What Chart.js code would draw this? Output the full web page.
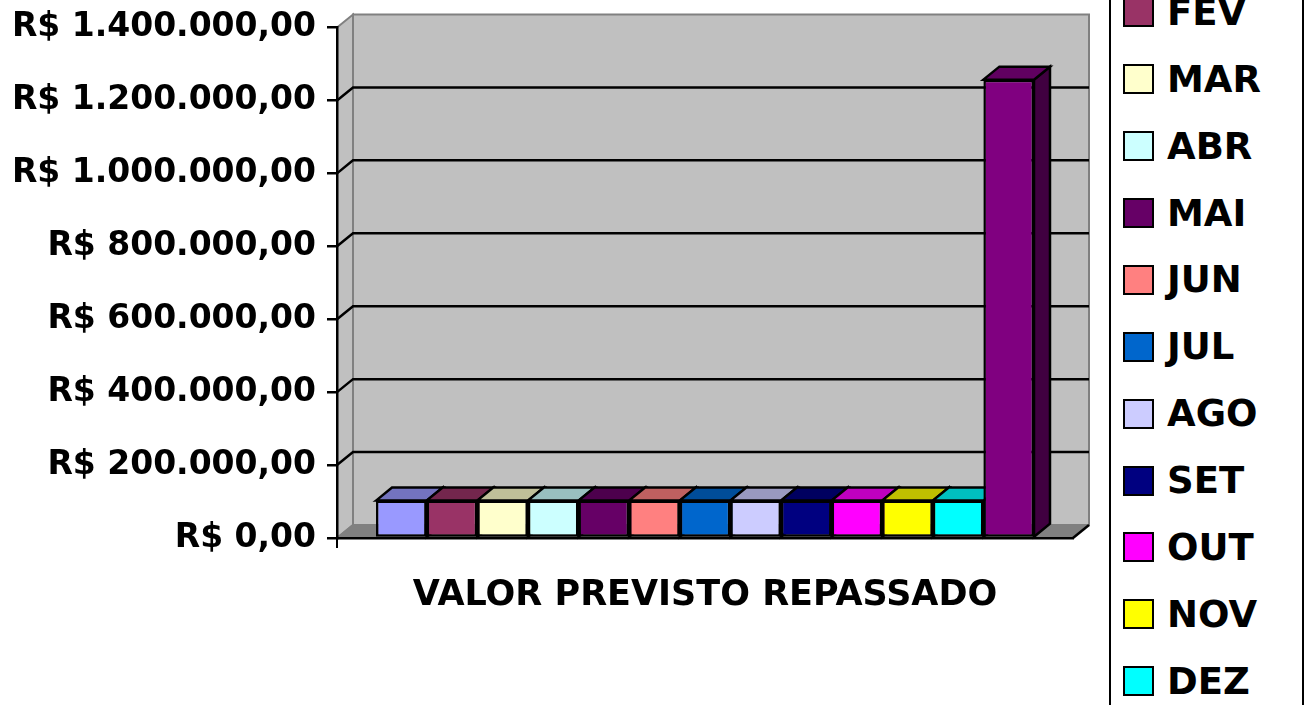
<!DOCTYPE html>
<html>
<head>
<meta charset="utf-8">
<script src="https://cdn.jsdelivr.net/npm/chart.js@4/dist/chart.umd.min.js"></script>
<style>
  html, body { margin:0; padding:0; background:#fff; overflow:hidden; }
  #wrap { position:relative; width:1305px; height:705px; overflow:hidden; }
  #c { position:absolute; left:0; top:0; }
  #legend { position:absolute; left:1109px; top:-100px; width:191px; border:2px solid #000; background:#fff; padding:10px 0; font-family:"DejaVu Sans", sans-serif; font-weight:bold; font-size:37px; color:#000; }
  .item { display:flex; align-items:center; height:66.9px; }
  .sw { width:27px; height:26px; border:2px solid #000; margin-left:12px; margin-right:13px; flex:none; }
</style>
</head>
<body>
<div id="wrap">
  <canvas id="c" width="1305" height="705"></canvas>
  <div id="legend"></div>
</div>
<script>
const CATEGORIES = ['VALOR PREVISTO REPASSADO'];
const SERIES = ['JAN','FEV','MAR','ABR','MAI','JUN','JUL','AGO','SET','OUT','NOV','DEZ','TOTAL'];
const VALUES = [102500, 102500, 102500, 102500, 102500, 102500, 102500, 102500, 102500, 102500, 102500, 102500, 1257000];
const COLORS = ['#9999FF','#993366','#FFFFCC','#CCFFFF','#660066','#FF8080','#0066CC','#CCCCFF','#000080','#FF00FF','#FFFF00','#00FFFF','#800080'];
const Y_TICK_VALUES = [0, 200000, 400000, 600000, 800000, 1000000, 1200000, 1400000];
const Y_TICK_LABELS = ['R$ 0,00','R$ 200.000,00','R$ 400.000,00','R$ 600.000,00','R$ 800.000,00','R$ 1.000.000,00','R$ 1.200.000,00','R$ 1.400.000,00'];

const DX = 16, DY = 13;
const FONT = '"DejaVu Sans", sans-serif';

function shade(hex, f) {
  const n = parseInt(hex.slice(1), 16);
  const r = Math.round(((n >> 16) & 255) * f), g = Math.round(((n >> 8) & 255) * f), b = Math.round((n & 255) * f);
  return 'rgb(' + r + ',' + g + ',' + b + ')';
}
function poly(ctx, pts, fill, stroke, lw) {
  ctx.beginPath();
  ctx.moveTo(pts[0][0], pts[0][1]);
  for (let i = 1; i < pts.length; i++) ctx.lineTo(pts[i][0], pts[i][1]);
  ctx.closePath();
  if (fill) { ctx.fillStyle = fill; ctx.fill(); }
  if (stroke) { ctx.strokeStyle = stroke; ctx.lineWidth = lw || 2; ctx.lineJoin = 'miter'; ctx.stroke(); }
}

const wallsPlugin = {
  id: 'walls3d',
  beforeDraw(chart) {
    const ctx = chart.ctx, a = chart.chartArea, y = chart.scales.y;
    const L = a.left, R = a.right;
    const T = y.getPixelForValue(y.max), B = y.getPixelForValue(0);
    ctx.save();
    poly(ctx, [[L+DX, T-DY],[R+DX, T-DY],[R+DX, B-DY],[L+DX, B-DY]], '#C0C0C0', '#808080', 2);
    poly(ctx, [[L, T],[L+DX, T-DY],[L+DX, B-DY],[L, B]], '#C0C0C0', '#808080', 2);
    poly(ctx, [[L, B],[L+DX, B-DY],[R+DX, B-DY],[R, B]], '#808080', null);
    ctx.strokeStyle = '#808080'; ctx.lineWidth = 2;
    ctx.beginPath(); ctx.moveTo(L, B); ctx.lineTo(L+DX, B-DY); ctx.stroke();
    ctx.strokeStyle = '#000'; ctx.lineWidth = 2.5;
    ctx.beginPath(); ctx.moveTo(R, B); ctx.lineTo(R+DX, B-DY); ctx.stroke();
    ctx.strokeStyle = '#000'; ctx.lineWidth = 2.5;
    Y_TICK_VALUES.forEach(v => {
      if (v <= y.min || v >= y.max) return;
      const yy = y.getPixelForValue(v);
      ctx.beginPath();
      ctx.moveTo(L, yy); ctx.lineTo(L+DX, yy-DY); ctx.lineTo(R+DX, yy-DY);
      ctx.stroke();
    });
    ctx.restore();
  },
  beforeDatasetsDraw(chart) {
    const ctx = chart.ctx;
    ctx.save();
    chart.data.datasets.forEach((ds, i) => {
      const meta = chart.getDatasetMeta(i);
      meta.data.forEach(el => {
        const p = el.getProps(['x','y','base','width'], true);
        const l = p.x - p.width/2, r = p.x + p.width/2, t = p.y, b = p.base;
        poly(ctx, [[r, t],[r+DX, t-DY],[r+DX, b-DY],[r, b]], shade(COLORS[i], 0.5), '#000', 2.5);
        poly(ctx, [[l, t],[l+DX, t-DY],[r+DX, t-DY],[r, t]], shade(COLORS[i], 0.75), '#000', 2.5);
      });
    });
    ctx.restore();
  },
  afterDraw(chart) {
    const ctx = chart.ctx, a = chart.chartArea, y = chart.scales.y;
    const B = y.getPixelForValue(0);
    ctx.save();
    ctx.strokeStyle = '#000'; ctx.lineWidth = 2;
    ctx.beginPath(); ctx.moveTo(a.left, B); ctx.lineTo(a.left, B + 10); ctx.stroke();
    ctx.restore();
  }
};

const datasets = SERIES.map((name, i) => ({
  label: name,
  data: [VALUES[i]],
  backgroundColor: COLORS[i],
  borderColor: '#000',
  borderWidth: 2.5,
  borderSkipped: false,
  categoryPercentage: 0.894,
  barPercentage: 1.0
}));

new Chart(document.getElementById('c'), {
  type: 'bar',
  data: { labels: CATEGORIES, datasets },
  options: {
    responsive: false,
    animation: false,
    layout: { padding: { top: 22, right: 232, bottom: 0, left: 0 } },
    plugins: { legend: { display: false }, tooltip: { enabled: false } },
    scales: {
      x: {
        grid: { display: false },
        border: { display: true, color: '#000', width: 2.5 },
        ticks: { color: '#000', font: { family: FONT, weight: 'bold', size: 35 }, padding: 29 },
        afterFit(s) { s.height = 167; }
      },
      y: {
        min: 0, max: 1400000,
        afterBuildTicks(s) { s.ticks = Y_TICK_VALUES.map(v => ({ value: v })); },
        grid: { drawOnChartArea: false, drawTicks: true, tickLength: 10, color: '#000', lineWidth: 2.5 },
        border: { display: true, color: '#000', width: 2.5 },
        ticks: {
          color: '#000', padding: 11,
          font: { family: FONT, weight: 'bold', size: 33, lineHeight: 1.0 },
          callback(v) { const i = Y_TICK_VALUES.indexOf(v); return i >= 0 ? Y_TICK_LABELS[i] : ''; }
        },
        afterFit(s) { s.width = 337; }
      }
    }
  },
  plugins: [wallsPlugin]
});

const leg = document.getElementById('legend');
SERIES.forEach((name, i) => {
  const it = document.createElement('div');
  it.className = 'item';
  const sw = document.createElement('div');
  sw.className = 'sw';
  sw.style.background = COLORS[i];
  const tx = document.createElement('span');
  tx.textContent = name;
  it.appendChild(sw); it.appendChild(tx);
  leg.appendChild(it);
});
</script>
</body>
</html>
